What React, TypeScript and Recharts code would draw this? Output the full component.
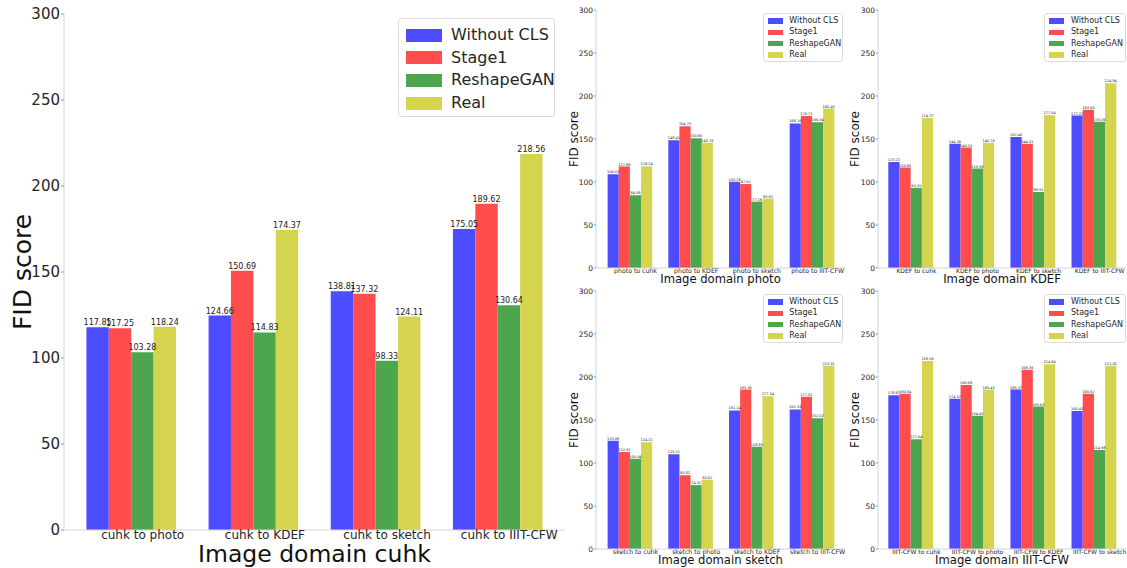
import React from 'react';
import { BarChart, Bar, XAxis, YAxis, Legend, LabelList } from 'recharts';

const FONT = '"DejaVu Sans", sans-serif';
const TEXT = '#262626';
const SPINE = '#d4d4d4';

const SERIES_NAMES = ['Without CLS', 'Stage1', 'ReshapeGAN', 'Real'];
const SERIES_KEYS = ['withoutCls', 'stage1', 'reshapeGan', 'real'];
const SERIES_COLORS = ['#4d4dff', '#ff4d4d', '#4da64d', '#d4d44e'];
const Y_TICKS = [0, 50, 100, 150, 200, 250, 300];

// cuhk (large panel)
const CUHK_CATEGORIES = ['cuhk to photo', 'cuhk to KDEF', 'cuhk to sketch', 'cuhk to IIIT-CFW'];
const CUHK_WITHOUT_CLS = [117.85, 124.66, 138.81, 175.05];
const CUHK_STAGE1 = [117.25, 150.69, 137.32, 189.62];
const CUHK_RESHAPEGAN = [103.28, 114.83, 98.33, 130.64];
const CUHK_REAL = [118.24, 174.37, 124.11, 218.56];

// photo
const PHOTO_CATEGORIES = ['photo to cuhk', 'photo to KDEF', 'photo to sketch', 'photo to IIIT-CFW'];
const PHOTO_WITHOUT_CLS = [109.03, 148.41, 100.28, 168.16];
const PHOTO_STAGE1 = [117.88, 164.75, 97.62, 176.71];
const PHOTO_RESHAPEGAN = [84.58, 150.8, 77.18, 169.34];
const PHOTO_REAL = [118.24, 145.76, 80.62, 185.43];

// KDEF
const KDEF_CATEGORIES = ['KDEF to cuhk', 'KDEF to photo', 'KDEF to sketch', 'KDEF to IIIT-CFW'];
const KDEF_WITHOUT_CLS = [123.22, 144.36, 152.4, 177.22];
const KDEF_STAGE1 = [116.85, 140.1, 144.51, 183.93];
const KDEF_RESHAPEGAN = [93.2, 115.58, 88.51, 170.06];
const KDEF_REAL = [174.37, 145.76, 177.54, 214.84];

// sketch
const SKETCH_CATEGORIES = ['sketch to cuhk', 'sketch to photo', 'sketch to KDEF', 'sketch to IIIT-CFW'];
const SKETCH_WITHOUT_CLS = [125.98, 110.11, 161.14, 162.33];
const SKETCH_STAGE1 = [112.92, 85.82, 185.36, 177.01];
const SKETCH_RESHAPEGAN = [105.04, 74.32, 118.83, 152.02];
const SKETCH_REAL = [124.11, 80.62, 177.54, 213.01];

// IIIT-CFW
const IIIT_CATEGORIES = ['IIIT-CFW to cuhk', 'IIIT-CFW to photo', 'IIIT-CFW to KDEF', 'IIIT-CFW to sketch'];
const IIIT_WITHOUT_CLS = [178.87, 174.57, 185.37, 160.43];
const IIIT_STAGE1 = [180.54, 190.68, 208.36, 180.52];
const IIIT_RESHAPEGAN = [127.64, 154.92, 165.63, 114.98];
const IIIT_REAL = [218.56, 185.43, 214.84, 213.01];

function buildRows(cats: string[], a: number[], b: number[], c: number[], d: number[]) {
  return cats.map((name, i) => ({
    name,
    [SERIES_KEYS[0]]: a[i],
    [SERIES_KEYS[1]]: b[i],
    [SERIES_KEYS[2]]: c[i],
    [SERIES_KEYS[3]]: d[i],
  }));
}

const CatTick = (props: any) => {
  const { x, y, payload, shift, base, fs } = props;
  return (
    <text x={x + shift} y={y + base} textAnchor="middle" fontSize={fs} fill={TEXT} fontFamily={FONT}>
      {payload.value}
    </text>
  );
};

const LegendBox = ({ cfg }: any) => (
  <div
    style={{
      width: cfg.width,
      height: cfg.height,
      boxSizing: 'border-box',
      border: '1px solid #dcdcdc',
      borderRadius: 3,
      background: 'rgba(255,255,255,0.9)',
      position: 'relative',
      fontFamily: FONT,
    }}
  >
    {SERIES_NAMES.map((n, i) => (
      <React.Fragment key={n}>
        <div
          style={{
            position: 'absolute',
            left: cfg.patchX,
            top: cfg.firstRow + i * cfg.rowGap - cfg.patchH / 2,
            width: cfg.patchW,
            height: cfg.patchH,
            background: SERIES_COLORS[i],
          }}
        />
        <div
          style={{
            position: 'absolute',
            left: cfg.textX,
            top: cfg.firstRow + i * cfg.rowGap,
            transform: 'translateY(-50%)',
            fontSize: cfg.font,
            lineHeight: 1,
            color: TEXT,
            whiteSpace: 'nowrap',
          }}
        >
          {n}
        </div>
      </React.Fragment>
    ))}
  </div>
);

function Panel({ cfg, rows }: any) {
  const plotH = cfg.height - cfg.marginTop - cfg.xAxisHeight;
  return (
    <div style={{ position: 'absolute', left: cfg.left, top: cfg.top, width: cfg.width, height: cfg.height }}>
      <BarChart
        width={cfg.width}
        height={cfg.height}
        data={rows}
        margin={{ top: cfg.marginTop, right: cfg.marginRight, bottom: 0, left: 0 }}
        barGap={0}
        barSize={cfg.barSize}
      >
        <XAxis
          dataKey="name"
          height={cfg.xAxisHeight}
          padding={{ left: cfg.padL, right: cfg.padR }}
          tickLine={false}
          tickSize={0}
          tickMargin={0}
          interval={0}
          axisLine={{ stroke: SPINE }}
          tick={<CatTick shift={cfg.barSize / 2} base={cfg.catBase} fs={cfg.catFont} />}
          label={(p: any) => {
            const vb = p.viewBox || {};
            return (
              <text
                x={vb.x + vb.width / 2}
                y={vb.y + cfg.xTitleBase}
                textAnchor="middle"
                fontSize={cfg.xTitleFont}
                fill="#111"
                fontFamily={FONT}
              >
                {cfg.xTitle}
              </text>
            );
          }}
        />
        <XAxis xAxisId="frameTop" orientation="top" height={0} tick={false} tickLine={false} axisLine={{ stroke: SPINE }} />
        <YAxis
          width={cfg.yAxisWidth}
          domain={[0, 300]}
          ticks={Y_TICKS}
          type="number"
          allowDataOverflow
          tickSize={cfg.yTickSize}
          tickMargin={1}
          tickLine={{ stroke: '#999' }}
          axisLine={{ stroke: SPINE }}
          tick={{ fontSize: cfg.yTickFont, fill: TEXT, fontFamily: FONT }}
          label={() => {
            const cx = cfg.yTitleX;
            const cy = cfg.marginTop + plotH / 2;
            return (
              <text
                x={cx}
                y={cy}
                transform={`rotate(-90 ${cx} ${cy})`}
                textAnchor="middle"
                dominantBaseline="central"
                fontSize={cfg.yTitleFont}
                fill="#111"
                fontFamily={FONT}
              >
                FID score
              </text>
            );
          }}
        />
        <YAxis
          yAxisId="frameRight"
          orientation="right"
          width={0}
          domain={[0, 300]}
          type="number"
          tick={false}
          tickLine={false}
          axisLine={{ stroke: SPINE }}
        />
        <Legend
          layout="horizontal"
          verticalAlign="middle"
          align="center"
          wrapperStyle={{ left: cfg.legend.left, top: cfg.legend.top, width: cfg.legend.width, height: cfg.legend.height }}
          content={() => <LegendBox cfg={cfg.legend} />}
        />
        {SERIES_KEYS.map((k, i) => (
          <Bar key={k} dataKey={k} name={SERIES_NAMES[i]} fill={SERIES_COLORS[i]} isAnimationActive={false}>
            <LabelList
              dataKey={k}
              position="top"
              offset={cfg.valueOffset}
              fontSize={cfg.valueFont}
              fill="#222"
              fontFamily={FONT}
              formatter={(v: any) => Number(v).toFixed(2)}
            />
          </Bar>
        ))}
      </BarChart>
    </div>
  );
}

const MAIN_CFG = {
  left: 0, top: 0, width: 570, height: 568, marginTop: 14, marginRight: 5,
  yAxisWidth: 64, xAxisHeight: 38, padL: 6.4, padR: 5.9, barSize: 22.4,
  catFont: 12, catBase: 9.2, xTitle: 'Image domain cuhk', xTitleFont: 23.5, xTitleBase: 32.2,
  yTitleX: 22, yTitleFont: 25, yTickFont: 15, yTickSize: 3, valueFont: 8, valueOffset: 2,
  legend: { left: 398, top: 18, width: 157, height: 99, firstRow: 16, rowGap: 22.7, patchX: 7, patchW: 36, patchH: 13, textX: 52, font: 16 },
};

const smallLeft = (top: number, xTitle: string) => ({
  left: 560, top, width: 290, height: 287, marginTop: 10, marginRight: 5,
  yAxisWidth: 36, xAxisHeight: 19, padL: 3.6, padR: 2.6, barSize: 11.15,
  catFont: 6.2, catBase: 5.2, xTitle, xTitleFont: 11.6, xTitleBase: 15.4,
  yTitleX: 14, yTitleFont: 12, yTickFont: 7.5, yTickSize: 2, valueFont: 3.5, valueOffset: 1,
  legend: { left: 203.3, top: 13.3, width: 79.4, height: 48.4, firstRow: 6.7, rowGap: 11.3, patchX: 3.4, patchW: 15.6, patchH: 5.5, textX: 25, font: 8 },
});

const smallRight = (top: number, xTitle: string) => ({
  left: 842, top, width: 285, height: 287, marginTop: 10, marginRight: 1,
  yAxisWidth: 36, xAxisHeight: 19, padL: 2.3, padR: 1.4, barSize: 11.2,
  catFont: 6.0, catBase: 5.2, xTitle, xTitleFont: 11.6, xTitleBase: 15.4,
  yTitleX: 13, yTitleFont: 12, yTickFont: 7.5, yTickSize: 2, valueFont: 3.5, valueOffset: 1,
  legend: { left: 202, top: 13.3, width: 82, height: 48.4, firstRow: 6.7, rowGap: 11.3, patchX: 3.7, patchW: 15.6, patchH: 5.5, textX: 26, font: 8 },
});

export default function App() {
  return (
    <div style={{ position: 'absolute', left: 0, top: 0, width: 1127, height: 568, background: '#fff', overflow: 'hidden' }}>
      <Panel cfg={MAIN_CFG} rows={buildRows(CUHK_CATEGORIES, CUHK_WITHOUT_CLS, CUHK_STAGE1, CUHK_RESHAPEGAN, CUHK_REAL)} />
      <Panel cfg={smallLeft(0, 'Image domain photo')} rows={buildRows(PHOTO_CATEGORIES, PHOTO_WITHOUT_CLS, PHOTO_STAGE1, PHOTO_RESHAPEGAN, PHOTO_REAL)} />
      <Panel cfg={smallRight(0, 'Image domain KDEF')} rows={buildRows(KDEF_CATEGORIES, KDEF_WITHOUT_CLS, KDEF_STAGE1, KDEF_RESHAPEGAN, KDEF_REAL)} />
      <Panel cfg={smallLeft(281, 'Image domain sketch')} rows={buildRows(SKETCH_CATEGORIES, SKETCH_WITHOUT_CLS, SKETCH_STAGE1, SKETCH_RESHAPEGAN, SKETCH_REAL)} />
      <Panel cfg={smallRight(281, 'Image domain IIIT-CFW')} rows={buildRows(IIIT_CATEGORIES, IIIT_WITHOUT_CLS, IIIT_STAGE1, IIIT_RESHAPEGAN, IIIT_REAL)} />
    </div>
  );
}
